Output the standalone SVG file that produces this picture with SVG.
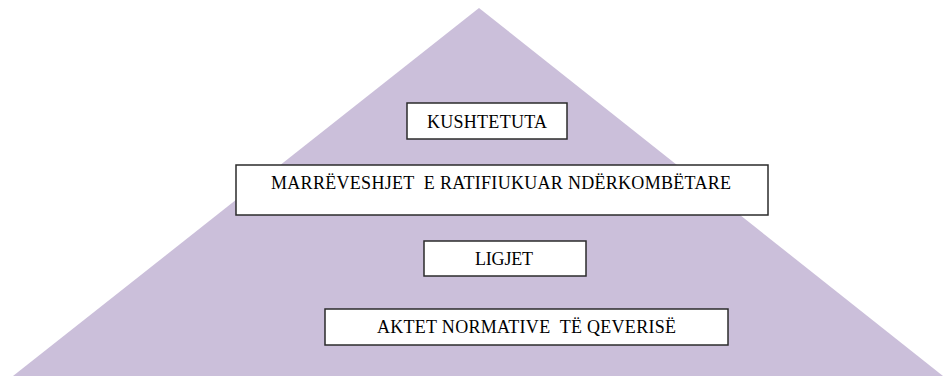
<svg xmlns="http://www.w3.org/2000/svg" width="945" height="376" viewBox="0 0 945 376">
<style>
.box{fill:#fff;stroke:#2b2b2b;stroke-width:1.5}
.t{font-family:"Liberation Serif","Times New Roman",serif;font-size:18px;fill:#000;text-anchor:middle}
</style>
<rect width="945" height="376" fill="#fff"/>
<polygon id="pyramid" points="479,8 943,376 13,376" fill="#CBBFDA"/>
<g id="connectors"/>
<g id="kushtetuta">
<rect class="box" x="407" y="103" width="160" height="36"/>
<text class="t" x="487" y="127.5" textLength="120" lengthAdjust="spacing">KUSHTETUTA</text>
</g>
<g id="marreveshjet">
<rect class="box" x="236" y="165" width="532" height="50"/>
<text class="t" x="501" y="189" textLength="460" lengthAdjust="spacing" xml:space="preserve">MARRËVESHJET  E RATIFIUKUAR NDËRKOMBËTARE</text>
</g>
<g id="ligjet">
<rect class="box" x="424" y="241" width="162" height="35"/>
<text class="t" x="504" y="264.5" textLength="58" lengthAdjust="spacing">LIGJET</text>
</g>
<g id="aktet">
<rect class="box" x="325" y="309" width="403" height="36"/>
<text class="t" x="526.5" y="333" textLength="299" lengthAdjust="spacing" xml:space="preserve">AKTET NORMATIVE  TË QEVERISË</text>
</g>
</svg>
